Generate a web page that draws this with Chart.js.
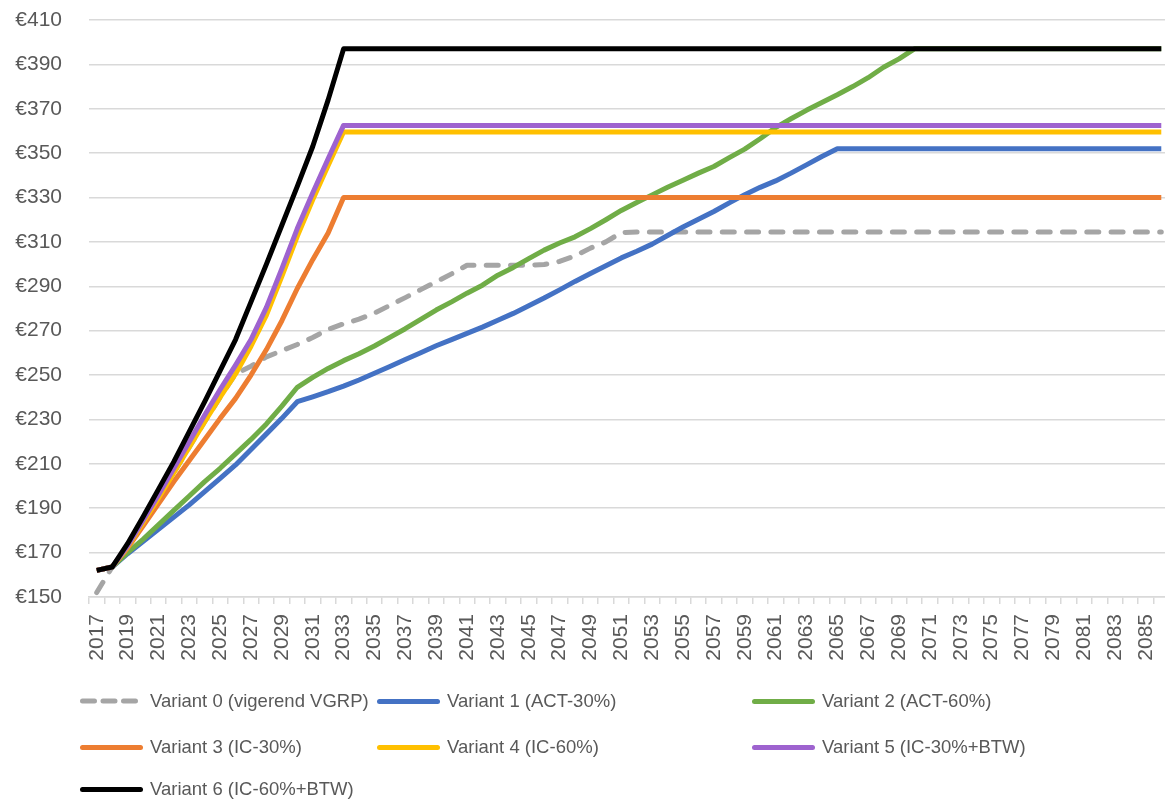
<!DOCTYPE html>
<html><head><meta charset="utf-8">
<script src="https://cdn.jsdelivr.net/npm/chart.js@4.4.0/dist/chart.umd.min.js"></script>
<style>
html,body{margin:0;padding:0;background:#fff;overflow:hidden;width:1165px;height:801px;}
#wrap{position:absolute;left:0;top:0;width:1170px;height:680px;}
#legend{position:absolute;left:0;top:0;width:1165px;height:801px;pointer-events:none;font-family:"Liberation Sans",Arial,sans-serif;font-size:18.5px;color:#595959;}
.item{position:absolute;display:flex;align-items:center;height:30px;white-space:nowrap;}
.sw{width:63px;height:6px;margin-right:7px;flex:none;}
</style></head>
<body>
<div id="wrap"><canvas id="c"></canvas></div>
<div id="legend"></div>
<script>
const years = ['2017','2018','2019','2020','2021','2022','2023','2024','2025','2026',
'2027','2028','2029','2030','2031','2032','2033','2034','2035','2036',
'2037','2038','2039','2040','2041','2042','2043','2044','2045','2046',
'2047','2048','2049','2050','2051','2052','2053','2054','2055','2056',
'2057','2058','2059','2060','2061','2062','2063','2064','2065','2066',
'2067','2068','2069','2070','2071','2072','2073','2074','2075','2076',
'2077','2078','2079','2080','2081','2082','2083','2084','2085','2086'];

const seriesNames = ['Variant 0 (vigerend VGRP)','Variant 1 (ACT-30%)','Variant 2 (ACT-60%)',
'Variant 3 (IC-30%)','Variant 4 (IC-60%)','Variant 5 (IC-30%+BTW)','Variant 6 (IC-60%+BTW)'];

const variant0 = [152,163.5,172.5,183.5,194.5,206,217.5,229,240,
250.5,254,258.2,261,263.8,266.9,270.6,273.1,275.2,277.9,281.4,284.9,288.5,292,295.6,
299.5,299.5,299.5,299.5,299.5,299.8,301.2,303.7,307.2,310,314.2,
314.5,314.5,314.5,314.5,314.5,314.5,314.5,314.5,314.5,314.5,314.5,314.5,314.5,314.5,314.5,
314.5,314.5,314.5,314.5,314.5,314.5,314.5,314.5,314.5,314.5,314.5,314.5,314.5,314.5,314.5,
314.5,314.5,314.5,314.5,314.5];

const variant1 = [162,163.5,169.5,175,180.5,186,191.5,197.5,203.5,209.5,216.5,223.5,230.5,238,
240.2,242.5,245,247.8,250.8,253.9,257,260.1,263.2,266,268.8,271.6,274.7,277.8,281.2,284.7,
288.4,292.2,295.8,299.3,302.8,305.8,309,312.9,316.7,320.2,323.7,327.6,331.3,334.6,337.5,
341,344.7,348.5,352,
352,352,352,352,352,352,352,352,352,352,352,352,352,352,352,352,352,352,352,352,352];

const variant2 = [162,163.5,170,176,182.5,189,195.5,202,208,214.5,221,228,236,244.5,
249,253,256.5,259.6,263.1,267,270.9,275.1,279.3,283,286.9,290.5,295,298.5,302.5,306.3,
309.5,312.3,316,320,324.2,327.8,331.2,334.6,337.8,341,344,348,351.8,356.5,361.5,365.5,
369.3,372.8,376.3,380,384,388.7,392.5,397,
397,397,397,397,397,397,397,397,397,397,397,397,397,397,397,397];

const variant3 = [162,163.5,172,182,192,202,211.5,221,230.5,239.5,250,261.5,274.5,289,302,314,330,
330,330,330,330,330,330,330,330,330,330,330,330,330,330,330,330,330,330,330,330,330,330,330,
330,330,330,330,330,330,330,330,330,330,330,330,330,330,330,330,330,330,330,330,330,330,330,
330,330,330,330,330,330,330];

const variant4 = [162,163.5,172.5,183.5,194.5,206,217.5,229,240,250.5,263,277,294.5,312.5,329,344.5,359.5,
359.5,359.5,359.5,359.5,359.5,359.5,359.5,359.5,359.5,359.5,359.5,359.5,359.5,359.5,359.5,359.5,
359.5,359.5,359.5,359.5,359.5,359.5,359.5,359.5,359.5,359.5,359.5,359.5,359.5,359.5,359.5,359.5,
359.5,359.5,359.5,359.5,359.5,359.5,359.5,359.5,359.5,359.5,359.5,359.5,359.5,359.5,359.5,359.5,
359.5,359.5,359.5,359.5,359.5];

const variant5 = [162,163.5,173,184.5,196,208,220,232,243.5,254.5,266,280.5,298,316,332,347.5,362.5,
362.5,362.5,362.5,362.5,362.5,362.5,362.5,362.5,362.5,362.5,362.5,362.5,362.5,362.5,362.5,362.5,
362.5,362.5,362.5,362.5,362.5,362.5,362.5,362.5,362.5,362.5,362.5,362.5,362.5,362.5,362.5,362.5,
362.5,362.5,362.5,362.5,362.5,362.5,362.5,362.5,362.5,362.5,362.5,362.5,362.5,362.5,362.5,362.5,
362.5,362.5,362.5,362.5,362.5];

const variant6 = [162,163.5,174,186,198.5,211,224.5,238,252,266,283,300,317.5,335,353,374,397,
397,397,397,397,397,397,397,397,397,397,397,397,397,397,397,397,397,397,397,397,397,397,397,
397,397,397,397,397,397,397,397,397,397,397,397,397,397,397,397,397,397,397,397,397,397,397,
397,397,397,397,397,397,397];

const seriesValues = [variant0,variant1,variant2,variant3,variant4,variant5,variant6];
const seriesColors = ['#a5a5a5','#4472c4','#70ad47','#ed7d31','#ffc000','#9e63cf','#000000'];
const yMin = 150, yMax = 410, yStep = 20;

const datasets = seriesNames.map((name, i) => ({
  label: name,
  data: seriesValues[i],
  borderColor: seriesColors[i],
  backgroundColor: seriesColors[i],
  borderWidth: 5,
  borderDash: i === 0 ? [12, 12.3] : [],
  borderCapStyle: i === 0 ? 'round' : 'butt',
  borderJoinStyle: 'round',
  pointRadius: 0,
  tension: 0,
  fill: false,
  order: seriesNames.length - 1 - i
}));

const htmlLegend = {
  id: 'htmlLegend',
  afterUpdate(chart) {
    const box = document.getElementById('legend');
    box.innerHTML = '';
    const colX = [80, 377, 752];
    const rowY = [701, 747, 789];
    chart.data.datasets.forEach((ds, i) => {
      const it = document.createElement('div');
      it.className = 'item';
      it.style.left = colX[i % 3] + 'px';
      it.style.top = (rowY[Math.floor(i / 3)] - 15) + 'px';
      let sw;
      if (ds.borderDash && ds.borderDash.length) {
        sw = document.createElementNS('http://www.w3.org/2000/svg', 'svg');
        sw.setAttribute('width', '63'); sw.setAttribute('height', '6');
        sw.setAttribute('class', 'sw');
        const ln = document.createElementNS('http://www.w3.org/2000/svg', 'line');
        ln.setAttribute('x1', '2.5'); ln.setAttribute('y1', '3');
        ln.setAttribute('x2', '60'); ln.setAttribute('y2', '3');
        ln.setAttribute('stroke', ds.borderColor);
        ln.setAttribute('stroke-width', '5');
        ln.setAttribute('stroke-linecap', 'round');
        ln.setAttribute('stroke-dasharray', '12 8.5');
        sw.appendChild(ln);
      } else {
        sw = document.createElement('div');
        sw.className = 'sw';
        sw.style.height = '5px';
        sw.style.borderRadius = '2.5px';
        sw.style.background = ds.borderColor;
      }
      it.appendChild(sw);
      const tx = document.createElement('span');
      tx.textContent = ds.label;
      it.appendChild(tx);
      box.appendChild(it);
    });
  }
};

new Chart(document.getElementById('c'), {
  type: 'line',
  data: { labels: years, datasets },
  options: {
    responsive: true,
    maintainAspectRatio: false,
    animation: false,
    layout: { padding: { top: 20, right: 1, left: 0, bottom: 0 } },
    plugins: { legend: { display: false }, tooltip: { enabled: false } },
    scales: {
      x: {
        type: 'category',
        offset: true,
        grid: { drawOnChartArea: false, drawTicks: true, tickLength: 7, offset: true, color: '#d9d9d9', lineWidth: 1.5 },
        border: { display: true, color: '#d9d9d9', width: 1.5 },
        ticks: {
          autoSkip: false, maxRotation: 90, minRotation: 90, padding: 10,
          color: '#595959', font: { family: 'Liberation Sans', size: 21 },
          callback: function(v, idx) { return idx % 2 === 0 ? this.getLabelForValue(v) : ''; }
        },
        afterFit(scale) { scale.height = 83; scale.paddingLeft = 0; scale.paddingRight = 0; }
      },
      y: {
        min: yMin, max: yMax,
        grid: { drawTicks: false, color: '#d9d9d9', lineWidth: 1.5 },
        border: { display: false },
        ticks: {
          stepSize: yStep, padding: 27,
          color: '#595959', font: { family: 'Liberation Sans', size: 21 },
          callback: v => '€' + v
        },
        afterFit(scale) { scale.width = 89; scale.paddingTop = 0; scale.paddingBottom = 0; }
      }
    }
  },
  plugins: [htmlLegend]
});
</script>
</body></html>
